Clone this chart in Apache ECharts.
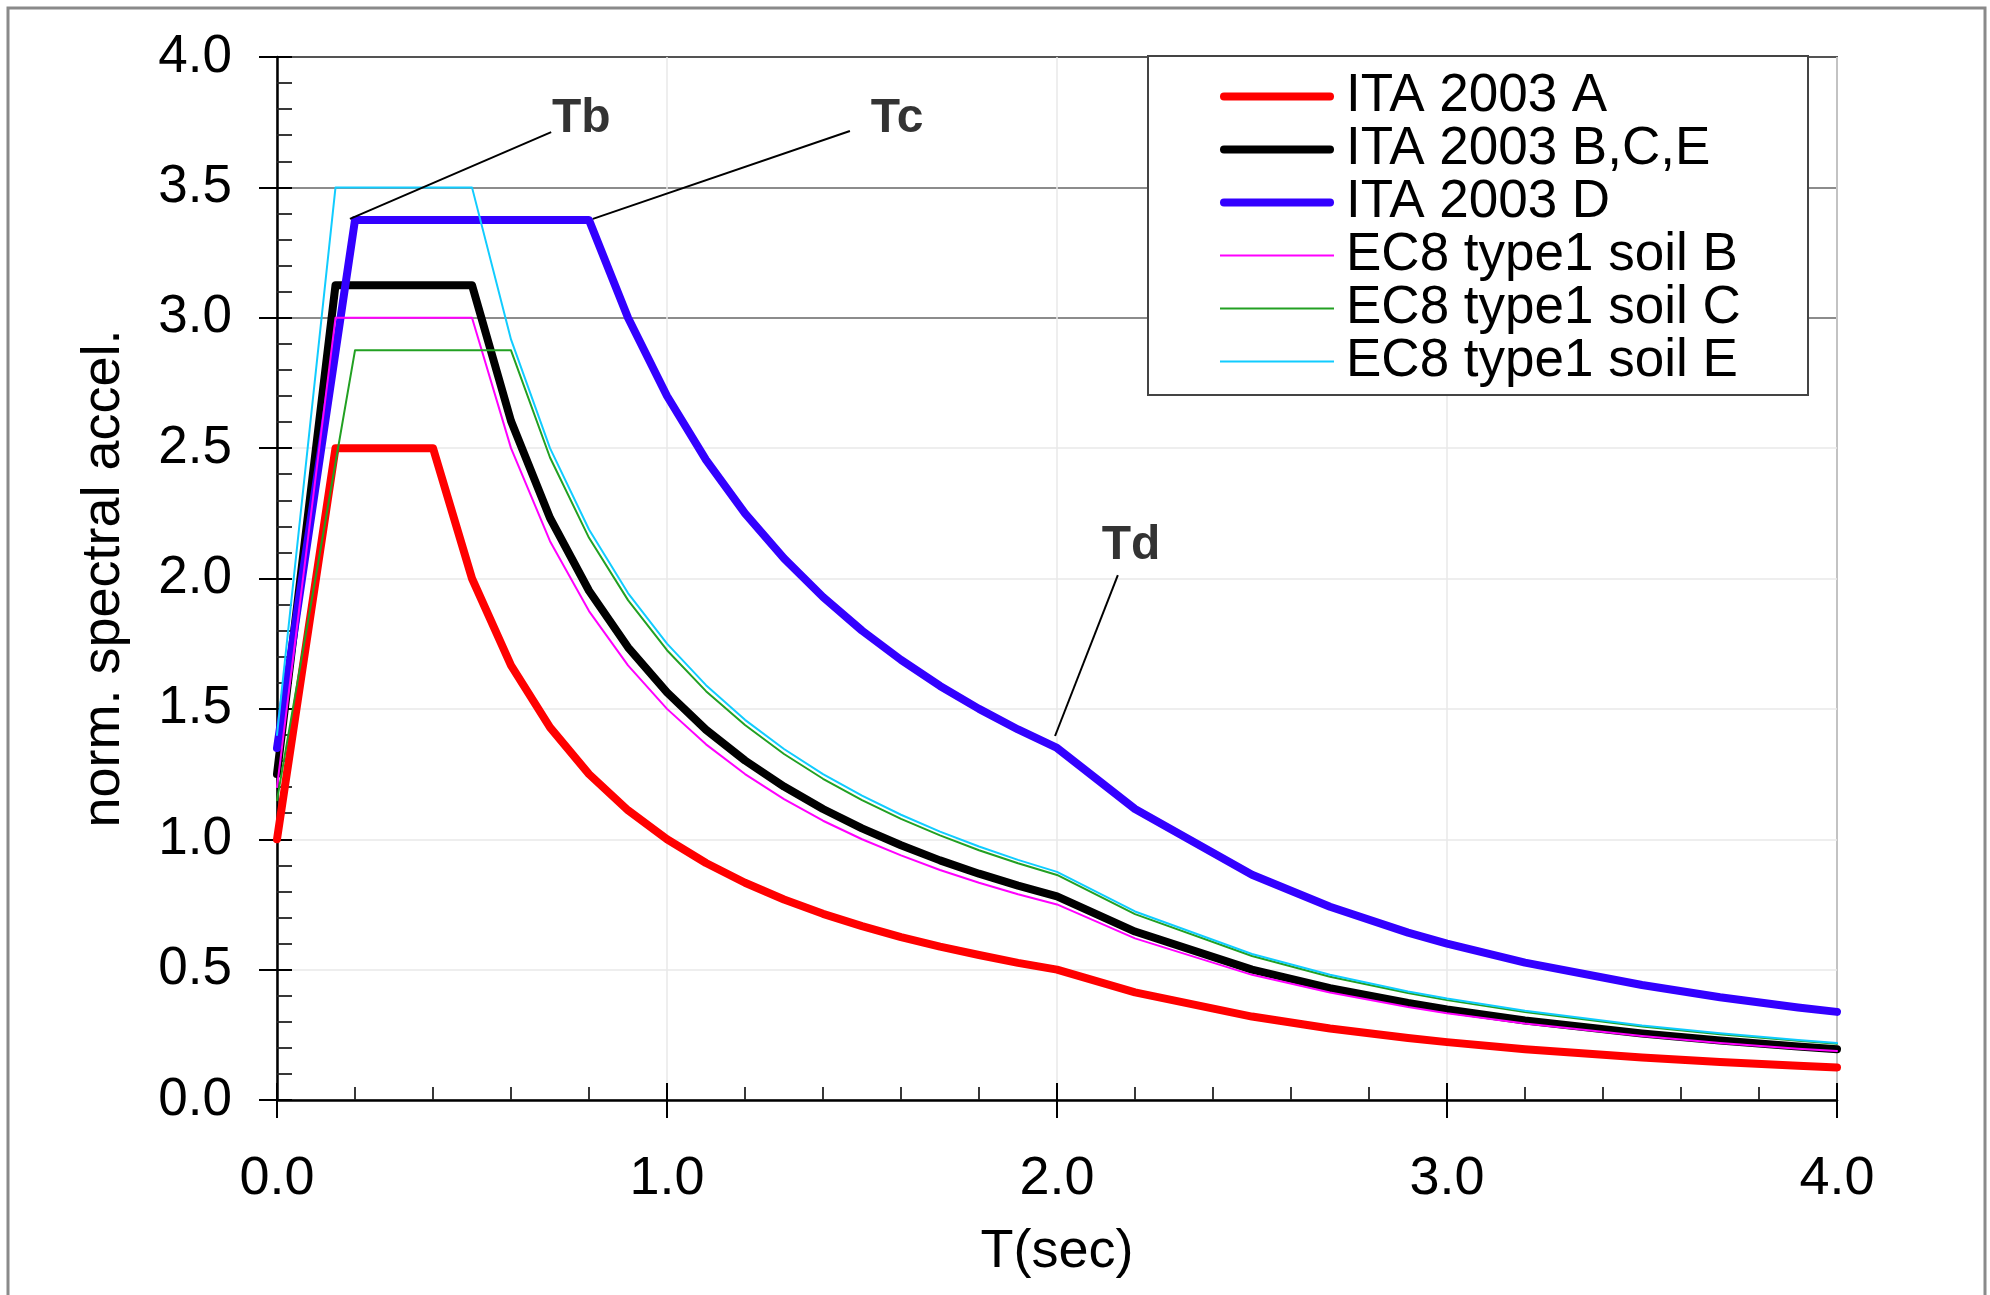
<!DOCTYPE html>
<html>
<head>
<meta charset="utf-8">
<script src="https://cdn.jsdelivr.net/npm/echarts@6/dist/echarts.min.js"></script>
<style>
html,body{margin:0;padding:0;background:#fff;}
#chart{width:1990px;height:1295px;}
</style>
</head>
<body>
<div id="chart"></div>
<script>
// ---- data ----
const T = [0, 0.15, 0.2, 0.4, 0.5, 0.6, 0.7, 0.8, 0.9, 1.0, 1.1, 1.2, 1.3, 1.4, 1.5, 1.6, 1.7, 1.8, 1.9, 2.0, 2.2, 2.5, 2.7, 2.9, 3.0, 3.2, 3.5, 3.7, 3.9, 4.0];
const ita2003A   = [1.0, 2.5, 2.5, 2.5, 2.0, 1.667, 1.429, 1.25, 1.111, 1.0, 0.909, 0.833, 0.769, 0.714, 0.667, 0.625, 0.588, 0.556, 0.526, 0.5, 0.413, 0.32, 0.274, 0.238, 0.222, 0.195, 0.163, 0.146, 0.131, 0.125];
const ita2003BCE = [1.25, 3.125, 3.125, 3.125, 3.125, 2.604, 2.232, 1.953, 1.736, 1.563, 1.42, 1.302, 1.202, 1.116, 1.042, 0.977, 0.919, 0.868, 0.822, 0.781, 0.646, 0.5, 0.429, 0.372, 0.347, 0.305, 0.255, 0.228, 0.205, 0.195];
const ita2003D   = [1.35, 2.869, 3.375, 3.375, 3.375, 3.375, 3.375, 3.375, 3.0, 2.7, 2.455, 2.25, 2.077, 1.929, 1.8, 1.688, 1.588, 1.5, 1.421, 1.35, 1.116, 0.864, 0.741, 0.642, 0.6, 0.527, 0.441, 0.394, 0.355, 0.338];
const ec8SoilB   = [1.2, 3.0, 3.0, 3.0, 3.0, 2.5, 2.143, 1.875, 1.667, 1.5, 1.364, 1.25, 1.154, 1.071, 1.0, 0.938, 0.882, 0.833, 0.789, 0.75, 0.62, 0.48, 0.412, 0.357, 0.333, 0.293, 0.245, 0.219, 0.197, 0.188];
const ec8SoilC   = [1.15, 2.444, 2.875, 2.875, 2.875, 2.875, 2.464, 2.156, 1.917, 1.725, 1.568, 1.438, 1.327, 1.232, 1.15, 1.078, 1.015, 0.958, 0.908, 0.863, 0.713, 0.552, 0.473, 0.41, 0.383, 0.337, 0.282, 0.252, 0.227, 0.216];
const ec8SoilE   = [1.4, 3.5, 3.5, 3.5, 3.5, 2.917, 2.5, 2.188, 1.944, 1.75, 1.591, 1.458, 1.346, 1.25, 1.167, 1.094, 1.029, 0.972, 0.921, 0.875, 0.723, 0.56, 0.48, 0.416, 0.389, 0.342, 0.286, 0.256, 0.23, 0.219];

const seriesNames = ['ITA 2003 A', 'ITA 2003 B,C,E', 'ITA 2003 D', 'EC8 type1 soil B', 'EC8 type1 soil C', 'EC8 type1 soil E'];
const seriesValues = [ita2003A, ita2003BCE, ita2003D, ec8SoilB, ec8SoilC, ec8SoilE];

const xTickLabels = ['0.0', '1.0', '2.0', '3.0', '4.0'];
const yTickLabels = ['0.0', '0.5', '1.0', '1.5', '2.0', '2.5', '3.0', '3.5', '4.0'];

const xTitle = 'T(sec)';
const yTitle = 'norm. spectral accel.';

// annotations (data coordinates)
const annoLabels   = ['Tb', 'Tc', 'Td'];
const annoLabelPos = [[0.78, 3.765], [1.59, 3.765], [2.19, 2.125]];
const annoLineFrom = [[0.703, 3.712], [1.469, 3.716], [2.156, 2.013]];
const annoLineTo   = [[0.187, 3.379], [0.81, 3.379], [1.995, 1.396]];

// ---- styles ----
const colors = ['#ff0000', '#000000', '#3300ff', '#ff00ff', '#22a022', '#11ccff'];
const widths = [8, 8, 8, 2, 2, 2];
const FONT = 'Liberation Sans, Arial, sans-serif';
const THICK_ICON = 'path://M4,0 L110,0 A4,4 0 0 1 110,8 L4,8 A4,4 0 0 1 4,0 Z';
const THIN_ICON = 'path://M0,0 L114,0 L114,2.2 L0,2.2 Z';

const chart = echarts.init(document.getElementById('chart'), null, {renderer: 'canvas'});

const series = seriesNames.map((name, i) => ({
  name: name,
  type: 'line',
  xAxisIndex: 0,
  yAxisIndex: 0,
  data: T.map((t, k) => [t, seriesValues[i][k]]),
  symbol: 'none',
  showSymbol: false,
  lineStyle: {color: colors[i], width: widths[i], cap: 'round', join: 'round'},
  itemStyle: {color: colors[i]},
  z: 2 + i * 0.1,
  silent: true
}));

series.push({
  name: 'annotations',
  type: 'scatter',
  xAxisIndex: 0,
  yAxisIndex: 0,
  symbolSize: 0,
  silent: true,
  data: annoLabels.map((l, i) => [annoLabelPos[i][0], annoLabelPos[i][1], l]),
  label: {
    show: true,
    position: 'inside',
    formatter: p => p.value[2],
    fontFamily: FONT,
    fontWeight: 'bold',
    fontSize: 48,
    color: '#000'
  },
  markLine: {
    silent: true,
    symbol: ['none', 'none'],
    label: {show: false},
    lineStyle: {color: '#000', width: 2, type: 'solid'},
    data: annoLabels.map((l, i) => [{coord: annoLineFrom[i]}, {coord: annoLineTo[i]}])
  },
  z: 5
});

const yGridColors = ['#e8e8e8', '#e8e8e8', '#e8e8e8', '#e8e8e8', '#e8e8e8', '#e8e8e8', '#666666', '#666666', '#555555'];

const option = {
  animation: false,
  backgroundColor: '#ffffff',
  grid: {
    left: 277, top: 57, width: 1560, height: 1043,
    show: true, borderColor: '#555', borderWidth: 2, backgroundColor: 'transparent'
  },
  legend: {
    data: seriesNames.map((n, i) => ({name: n, icon: widths[i] > 4 ? THICK_ICON : THIN_ICON})),
    orient: 'vertical',
    left: 1220,
    top: 70,
    padding: 0,
    itemGap: 0,
    itemWidth: 114,
    itemHeight: 10,
    selectedMode: false,
    textStyle: {fontFamily: FONT, fontSize: 53, color: '#000', lineHeight: 52, padding: [0, 0, 0, 7]},
    z: 10
  },
  graphic: [
    {type: 'rect', z: 3, shape: {x: 1148, y: 56, width: 660, height: 339},
     style: {fill: '#fff', stroke: '#444', lineWidth: 2}},
    {type: 'rect', z: 100, shape: {x: 8, y: 8, width: 1977, height: 1310},
     style: {fill: 'none', stroke: '#8a8a8a', lineWidth: 3}}
  ],
  xAxis: [
    {
      type: 'value', min: 0, max: 4, interval: 1, position: 'bottom',
      name: xTitle, nameLocation: 'middle', nameGap: 125,
      nameTextStyle: {fontFamily: FONT, fontSize: 54, color: '#000'},
      axisLine: {show: true, onZero: false, lineStyle: {color: '#000', width: 2.5}},
      axisTick: {show: true, inside: false, length: 18, lineStyle: {color: '#000', width: 2}},
      axisLabel: {show: true, margin: 52, fontFamily: FONT, fontSize: 54, color: '#000',
                  formatter: (v) => xTickLabels[Math.round(v)]},
      splitLine: {show: true, lineStyle: {color: '#e8e8e8', width: 1.5}}
    },
    {
      type: 'value', min: 0, max: 4, interval: 1, position: 'bottom',
      axisLine: {show: false},
      axisTick: {show: true, inside: true, length: 17, lineStyle: {color: '#000', width: 2}},
      minorTick: {show: true, splitNumber: 5, length: 13, lineStyle: {color: '#222', width: 1.8}},
      axisLabel: {show: false},
      splitLine: {show: false}
    }
  ],
  yAxis: [
    {
      type: 'value', min: 0, max: 4, interval: 0.5, position: 'left',
      name: yTitle, nameLocation: 'middle', nameGap: 146, nameRotate: 90,
      nameTextStyle: {fontFamily: FONT, fontSize: 54, color: '#000'},
      axisLine: {show: true, onZero: false, lineStyle: {color: '#000', width: 2.5}},
      axisTick: {show: true, inside: false, length: 18, lineStyle: {color: '#000', width: 2}},
      axisLabel: {show: true, margin: 45, fontFamily: FONT, fontSize: 53, color: '#000',
                  formatter: (v) => yTickLabels[Math.round(v * 2)]},
      splitLine: {show: true, lineStyle: {color: yGridColors, width: 1.5}}
    },
    {
      type: 'value', min: 0, max: 4, interval: 0.5, position: 'left',
      axisLine: {show: false},
      axisTick: {show: true, inside: true, length: 15, lineStyle: {color: '#000', width: 2}},
      minorTick: {show: true, splitNumber: 5, length: 15, lineStyle: {color: '#222', width: 1.8}},
      axisLabel: {show: false},
      splitLine: {show: false}
    }
  ],
  series: series
};

chart.setOption(option);
</script>
</body>
</html>
